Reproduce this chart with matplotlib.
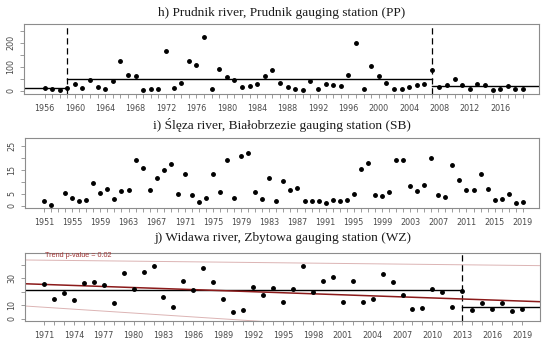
import numpy as np
import matplotlib
matplotlib.use("Agg")
import matplotlib.pyplot as plt

# ---------------- data ----------------
# h) Prudnik river (PP)
years_h = list(range(1956, 2020))
values_h = [12, 7, 5, 10, 26, 10, 44, 17, 8, 39, 122, 64, 60, 3, 6, 7, 164, 10, 32, 124,
            107, 222, 6, 89, 58, 44, 15, 18, 28, 60, 85, 33, 14, 8, 3, 42, 8, 28, 25, 19,
            65, 197, 6, 101, 61, 31, 8, 8, 17, 22, 28, 88, 15, 25, 50, 25, 8, 29, 25, 3,
            6, 18, 6, 6]
change_h = [1959, 2007]
levels_h = [11, 47, 19]

# i) Ślęza river (SB) -- 1953 missing
years_i = list(range(1951, 2020))
values_i = [1.8, 0.3, np.nan, 5.2, 3.2, 2.0, 2.5, 9.5, 5.4, 7.0, 2.9, 6.0, 6.6, 19.0, 15.8,
            6.6, 11.6, 15.1, 17.3, 4.7, 13.4, 4.6, 1.4, 3.2, 13.1, 5.6, 19.3, 3.2, 20.9, 22.1,
            5.7, 2.9, 11.6, 2.0, 10.5, 6.4, 7.4, 2.0, 2.0, 2.0, 1.1, 2.2, 2.0, 2.5, 4.7,
            15.2, 18.0, 4.5, 4.2, 5.6, 19.3, 19.0, 8.2, 6.3, 8.5, 19.8, 4.3, 3.8, 17.2, 10.6,
            6.7, 6.6, 13.4, 7.0, 2.2, 2.7, 4.7, 1.3, 1.7]

# j) Widawa river (WZ)
years_j = list(range(1971, 2020))
values_j = [25.7, 14.3, 19.0, 13.8, 26.2, 26.9, 25.2, 11.6, 33.8, 21.7, 34.6, 39.3, 16.0, 8.9,
            28.1, 21.5, 37.3, 27.4, 14.6, 4.7, 6.2, 23.5, 17.3, 23.0, 12.3, 22.2, 38.8, 19.5,
            28.1, 30.9, 12.6, 28.1, 12.6, 14.8, 33.3, 27.4, 17.3, 7.2, 7.9, 22.2, 20.0, 8.6,
            20.7, 6.7, 11.4, 7.4, 11.9, 5.9, 6.9]
change_j = [2013]
levels_j = [21.0, 8.9]
# trend lines: value at 1971 and slope per year
trend_ref_year = 1971
trend_value = 25.4
trend_slope = -0.257
ci_upper_value, ci_upper_slope = 43.35, -0.081
ci_lower_value, ci_lower_slope = 8.5, -0.48
trend_text = "Trend p-value = 0.02"

titles = ["h) Prudnik river, Prudnik gauging station (PP)",
          "i) Ślęza river, Białobrzezie gauging station (SB)",
          "j) Widawa river, Zbytowa gauging station (WZ)"]

# ---------------- figure ----------------
W, H = 550, 345
fig = plt.figure(figsize=(5.5, 3.45), dpi=100)

def axes_px(left, top, right, bottom):
    return fig.add_axes([left / W, 1 - bottom / H, (right - left) / W, (bottom - top) / H])

box_col = "#8c8c8c"
lab_col = "#4a4a4a"
tick_fs = 5.8

def style(ax, xlim, ylim, years, label_start, label_step, yt, ylabels):
    ax.set_xlim(*xlim)
    ax.set_ylim(*ylim)
    for s in ax.spines.values():
        s.set_color(box_col)
        s.set_linewidth(0.8)
    ax.set_xticks(years)
    ax.set_xticklabels([str(y) if (y - label_start) % label_step == 0 else "" for y in years])
    ax.set_yticks(yt)
    ax.set_yticklabels(ylabels, rotation=90, va="center")
    ax.tick_params(axis="both", direction="out", length=3, width=0.6, color=box_col,
                   labelsize=tick_fs, labelcolor=lab_col)
    ax.tick_params(axis="x", pad=4.0)
    ax.tick_params(axis="y", pad=3.2)

def title(ax_center_x, y_px, text):
    fig.text(ax_center_x / W, 1 - y_px / H, text, ha="center", va="center",
             family=["Liberation Serif", "DejaVu Serif"], fontsize=9.6, color="#1a1a1a")

def segments(ax, xlim, changes, levels):
    bounds = [xlim[0]] + list(changes) + [xlim[1]]
    for i, lv in enumerate(levels):
        ax.plot([bounds[i], bounds[i + 1]], [lv, lv], color="black", lw=1.0, zorder=2)
    for c in changes:
        ax.axvline(c, color="black", lw=0.9, ls=(0, (5, 3)), zorder=2)

# ----- panel h -----
axh = axes_px(24, 24, 539, 94)
xlim_h = (1953.3, 2021.1)
style(axh, xlim_h, (-13.75, 278), years_h, 1956, 4,
      [0, 50, 100, 150, 200, 250], ["0", "", "100", "", "200", ""])
segments(axh, xlim_h, change_h, levels_h)
axh.plot(years_h, values_h, "o", color="black", ms=2.5, zorder=3)
title(281.5, 13.3, titles[0])

# ----- panel i -----
axi = axes_px(25, 138.3, 539, 208.3)
style(axi, (1948.3, 2021.3), (-1.1, 28.2), years_i, 1951, 4,
      [0, 5, 10, 15, 20, 25], ["0", "5", "", "15", "", "25"])
axi.plot(years_i, values_i, "o", color="black", ms=2.5, zorder=3)
title(282, 125, titles[1])

# ----- panel j -----
axj = axes_px(25, 252.7, 540, 321)
xlim_j = (1969.1, 2020.8)
style(axj, xlim_j, (-1.7, 48.9), years_j, 1971, 3,
      [0, 10, 20, 30, 40], ["0", "10", "", "30", ""])
xx = np.array(xlim_j)
axj.plot(xx, ci_upper_value + ci_upper_slope * (xx - trend_ref_year), color="#dcb4b4", lw=0.7, zorder=1)
axj.plot(xx, ci_lower_value + ci_lower_slope * (xx - trend_ref_year), color="#dcb4b4", lw=0.7, zorder=1)
segments(axj, xlim_j, change_j, levels_j)
axj.plot(xx, trend_value + trend_slope * (xx - trend_ref_year), color="#8b1a1a", lw=1.1, zorder=2.5)
axj.plot(years_j, values_j, "o", color="black", ms=2.5, zorder=3)
axj.text(0.039, 0.962, trend_text, transform=axj.transAxes, ha="left", va="center",
         fontsize=5.2, color="#a03535", family="Liberation Sans")
title(282.5, 238.3, titles[2])

fig.savefig("out.png", dpi=100)
